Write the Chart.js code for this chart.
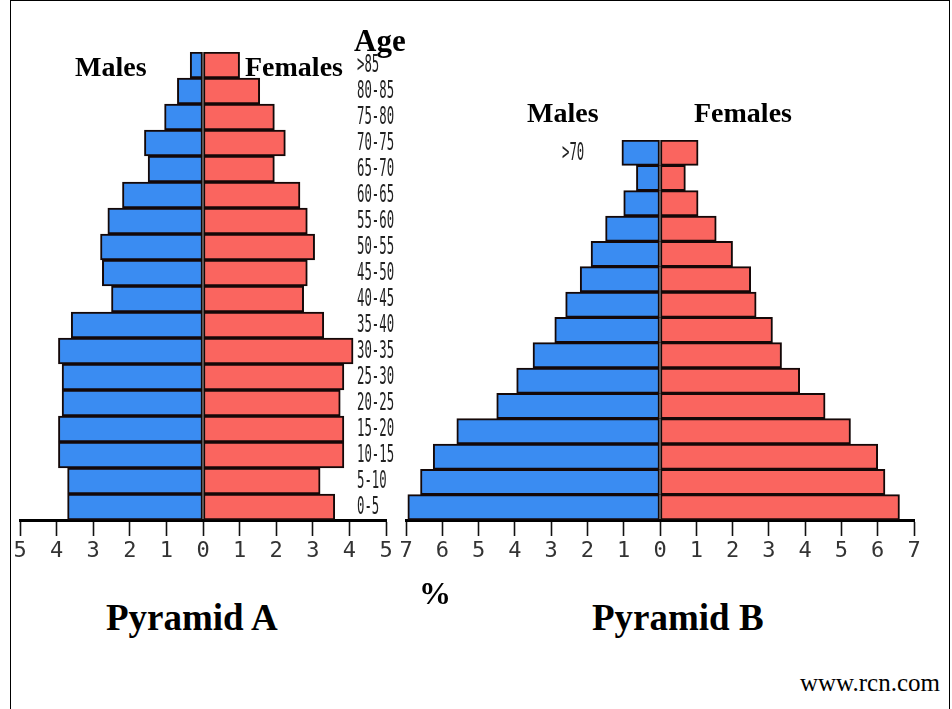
<!DOCTYPE html>
<html>
<head>
<meta charset="utf-8">
<script src="https://cdn.jsdelivr.net/npm/chart.js@4.4.1/dist/chart.umd.min.js"></script>
<style>
  body { margin: 0; background: #fff; width: 952px; height: 709px; overflow: hidden; position: relative; }
  .frame { position: absolute; left: 10px; top: 0; width: 940px; height: 720px; border: 1.5px solid #000; box-sizing: border-box; }
  .box { position: absolute; }
  .lbl { position: absolute; font-family: "Liberation Serif", "Times New Roman", serif; font-weight: bold; color: #000; white-space: nowrap; line-height: 1; }
</style>
</head>
<body>
<div class="frame"></div>
<div class="box" style="left:0;top:0;width:400px;height:580px"><canvas id="pyramid-a"></canvas></div>
<div class="box" style="left:390px;top:0;width:545px;height:580px"><canvas id="pyramid-b"></canvas></div>

<div class="lbl" style="left:354px;top:25px;font-size:31px">Age</div>
<div class="lbl" style="left:75px;top:53px;font-size:28px">Males</div>
<div class="lbl" style="left:245px;top:53px;font-size:28px">Females</div>
<div class="lbl" style="left:527px;top:99px;font-size:28px">Males</div>
<div class="lbl" style="left:694px;top:99px;font-size:28px">Females</div>
<div class="lbl" style="left:419px;top:577px;font-size:32px">%</div>
<div class="lbl" style="left:106px;top:599px;font-size:37px">Pyramid A</div>
<div class="lbl" style="left:592px;top:599px;font-size:37px">Pyramid B</div>
<div class="lbl" style="left:800px;top:670px;font-size:25px;font-weight:normal">www.rcn.com</div>

<script>
// Pyramid A (rows from top to bottom)
const ageGroupsA = ['>85', '80-85', '75-80', '70-75', '65-70', '60-65', '55-60', '50-55', '45-50',
    '40-45', '35-40', '30-35', '25-30', '20-25', '15-20', '10-15', '5-10', '0-5'];
const malesA   = [0.35, 0.7, 1.05, 1.6, 1.5, 2.2, 2.6, 2.8, 2.75, 2.5, 3.6, 3.95, 3.85, 3.85, 3.95, 3.95, 3.7, 3.7];
const femalesA = [1.0, 1.55, 1.95, 2.25, 1.95, 2.65, 2.85, 3.05, 2.85, 2.75, 3.3, 4.1, 3.85, 3.75, 3.85, 3.85, 3.2, 3.6];

// Pyramid B
const ageGroupsB = ['>70', '65-70', '60-65', '55-60', '50-55', '45-50', '40-45', '35-40',
    '30-35', '25-30', '20-25', '15-20', '10-15', '5-10', '0-5'];
const malesB   = [1.05, 0.65, 1.0, 1.5, 1.9, 2.2, 2.6, 2.9, 3.5, 3.95, 4.5, 5.6, 6.25, 6.6, 6.95];
const femalesB = [1.05, 0.7, 1.05, 1.55, 2.0, 2.5, 2.65, 3.1, 3.35, 3.85, 4.55, 5.25, 6.0, 6.2, 6.6];

// only these age labels are printed next to each pyramid
const shownLabelsA = ageGroupsA;
const shownLabelsB = ['>70'];

const MALE_COLOR = '#3a8cf2';
const FEMALE_COLOR = '#fa655f';
const TICK_FONT = { family: '"DejaVu Sans Mono", monospace', size: 22 };

// draws the age group labels at the category positions of the y scale
const ageLabelPlugin = {
    id: 'ageLabels',
    afterDraw(chart, args, opts) {
        const ctx = chart.ctx;
        const yScale = chart.scales.y;
        ctx.save();
        ctx.fillStyle = '#222';
        ctx.font = '22px "DejaVu Sans Mono", monospace';
        ctx.textBaseline = 'middle';
        ctx.textAlign = 'left';
        chart.data.labels.forEach((label, i) => {
            if (!opts.shown.includes(label)) return;
            const y = yScale.getPixelForValue(i);
            ctx.save();
            ctx.translate(opts.x, y + 1);
            ctx.scale(0.56, 1.1);
            ctx.fillText(label, 0, 0);
            ctx.restore();
        });
        ctx.restore();
    }
};

function makePyramid(canvasId, labels, males, females, limit, padding, labelOpts) {
    const ctx = document.getElementById(canvasId).getContext('2d');
    return new Chart(ctx, {
        type: 'bar',
        data: {
            labels: labels,
            datasets: [{
                label: 'Males',
                data: males.map(v => -v),
                backgroundColor: MALE_COLOR,
                borderColor: '#140808',
                borderWidth: 2,
                borderSkipped: false,
                barPercentage: 1,
                categoryPercentage: 1
            }, {
                label: 'Females',
                data: females,
                backgroundColor: FEMALE_COLOR,
                borderColor: '#140808',
                borderWidth: 2,
                borderSkipped: false,
                barPercentage: 1,
                categoryPercentage: 1
            }]
        },
        options: {
            indexAxis: 'y',
            responsive: true,
            maintainAspectRatio: false,
            animation: false,
            layout: { padding: padding },
            plugins: {
                legend: { display: false },
                tooltip: { enabled: false },
                ageLabels: labelOpts
            },
            scales: {
                x: {
                    stacked: true,
                    min: -limit,
                    max: limit,
                    afterFit: scale => { scale.height = 50; },
                    border: { display: true, color: '#000', width: 3 },
                    grid: {
                        drawOnChartArea: false,
                        drawTicks: true,
                        tickLength: 16,
                        tickColor: '#111',
                        tickWidth: 1.6
                    },
                    ticks: {
                        stepSize: 1,
                        autoSkip: false,
                        maxRotation: 0,
                        padding: 2,
                        color: '#333',
                        font: TICK_FONT,
                        callback: v => Math.abs(v)
                    }
                },
                y: {
                    stacked: true,
                    display: false
                }
            }
        },
        plugins: [ageLabelPlugin]
    });
}

makePyramid('pyramid-a', ageGroupsA, malesA, femalesA, 5,
    { left: 20, right: 14, top: 52, bottom: 10 },
    { x: 357, shown: shownLabelsA });

makePyramid('pyramid-b', ageGroupsB, malesB, femalesB, 7,
    { left: 16, right: 21, top: 140, bottom: 10 },
    { x: 172, shown: shownLabelsB });
</script>
</body>
</html>
